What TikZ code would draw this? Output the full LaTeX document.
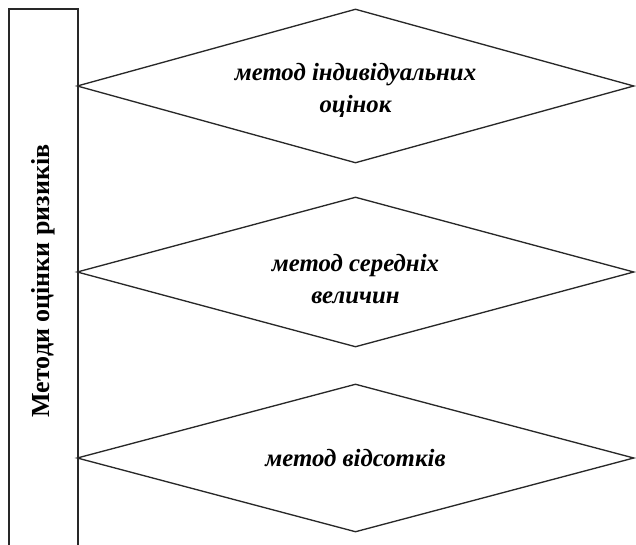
\documentclass[tikz,border=0pt]{standalone}
\usepackage{fontspec}
\setmainfont{Liberation Serif}
\usetikzlibrary{shapes.geometric}

\definecolor{linegray}{RGB}{40,40,40}

\tikzset{
	method/.style={diamond, aspect=3.6, draw=linegray, line width=1pt, inner sep=0pt,
		minimum width=557*0.75pt, align=center,
		font=\fontsize{18.6}{24}\selectfont\bfseries\itshape},
	title/.style={rotate=90, font=\fontsize{19.5}{23.4}\selectfont\bfseries}
}
% unsichtbarer Abstand nach oben, schiebt den Text nach unten
\newcommand{\senk}[1]{\rule{0pt}{#1}}

\begin{document}
\begin{tikzpicture}[x=0.75pt, y=-0.75pt]
	\useasboundingbox (0,0) rectangle (636,545);

	%% Rahmen links
	\draw[linegray, line width=1pt] (9,545) -- (9,9) -- (78,9) -- (78,545);
	\node[title] (titel) at (43.5,281) {Методи оцінки ризиків};

	%% Methoden
	\node[method, minimum height=154*0.75pt] (m1) at (355.5,86)
		{\senk{20pt}метод індивідуальних\\оцінок};
	\node[method, minimum height=150*0.75pt] (m2) at (355.5,272)
		{\senk{23pt}метод середніх\\величин};
	\node[method, minimum height=148*0.75pt] (m3) at (355.5,458)
		{метод відсотків};

\end{tikzpicture}
\end{document}
